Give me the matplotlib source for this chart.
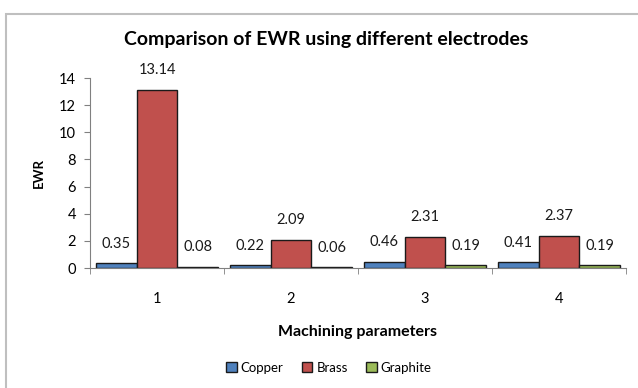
import matplotlib
matplotlib.use("Agg")
import matplotlib.pyplot as plt
from matplotlib.patches import Rectangle
import numpy as np

categories = ["1", "2", "3", "4"]
copper = [0.35, 0.22, 0.46, 0.41]
brass = [13.14, 2.09, 2.31, 2.37]
graphite = [0.08, 0.06, 0.19, 0.19]
series_names = ["Copper", "Brass", "Graphite"]
colors = ["#4F81BD", "#C0504D", "#9BBB59"]

plt.rcParams['font.family'] = ['Lato', 'DejaVu Sans']

fig = plt.figure(figsize=(6.38, 3.88), dpi=100)
# chart area frame
fig.patches.append(Rectangle((6 / 638, -0.1), 1.2, 1 - 14 / 388 + 0.1,
                             transform=fig.transFigure, fill=False,
                             edgecolor="#BFBFBF", linewidth=1.5))

L, R, B, T = 90, 626, 268, 78
ax = fig.add_axes([L / 638, 1 - B / 388, (R - L) / 638, (B - T) / 388])

x = np.arange(len(categories))
w = 0.305
for i, (vals, name, c) in enumerate(zip([copper, brass, graphite], series_names, colors)):
    pos = x + (i - 1) * w
    ax.bar(pos, vals, width=w, color=c, edgecolor="#1a1a1a", linewidth=1.0, label=name)
    for p, v in zip(pos, vals):
        ax.annotate(f"{v:.2f}", (p, v), xytext=(0, 9), textcoords="offset points",
                    ha="center", va="bottom", fontsize=10.5, color="#1a1a1a")

ax.set_xlim(-0.5, len(categories) - 0.5)
ax.set_ylim(0, 14)
ax.set_yticks(range(0, 15, 2))
ax.set_xticks(x)
ax.set_xticklabels(categories)
ax.set_xticks(np.arange(-0.5, len(categories)), minor=True)
ax.tick_params(axis="x", which="major", length=0, pad=17, labelsize=10.5)
ax.tick_params(axis="x", which="minor", length=4, color="#808080")
ax.tick_params(axis="y", length=4, color="#808080", labelsize=10.5, pad=6)
for s in ["top", "right"]:
    ax.spines[s].set_visible(False)
for s in ["left", "bottom"]:
    ax.spines[s].set_color("#808080")

ax.set_xlabel("Machining parameters", fontsize=11.5, fontweight="bold", labelpad=14)
ax.set_ylabel("EWR", fontsize=9.5, fontweight="bold", labelpad=10)
ax.set_title("Comparison of EWR using different electrodes", fontsize=14,
             fontweight="bold", pad=24, x=(326 - L) / (R - L))

fig.legend(loc="center", bbox_to_anchor=(329 / 638, 1 - 368 / 388), ncol=3,
           frameon=False, fontsize=9.5, handlelength=0.8, handleheight=0.8,
           handletextpad=0.3, columnspacing=1.4)

fig.savefig("out.png", dpi=100)
